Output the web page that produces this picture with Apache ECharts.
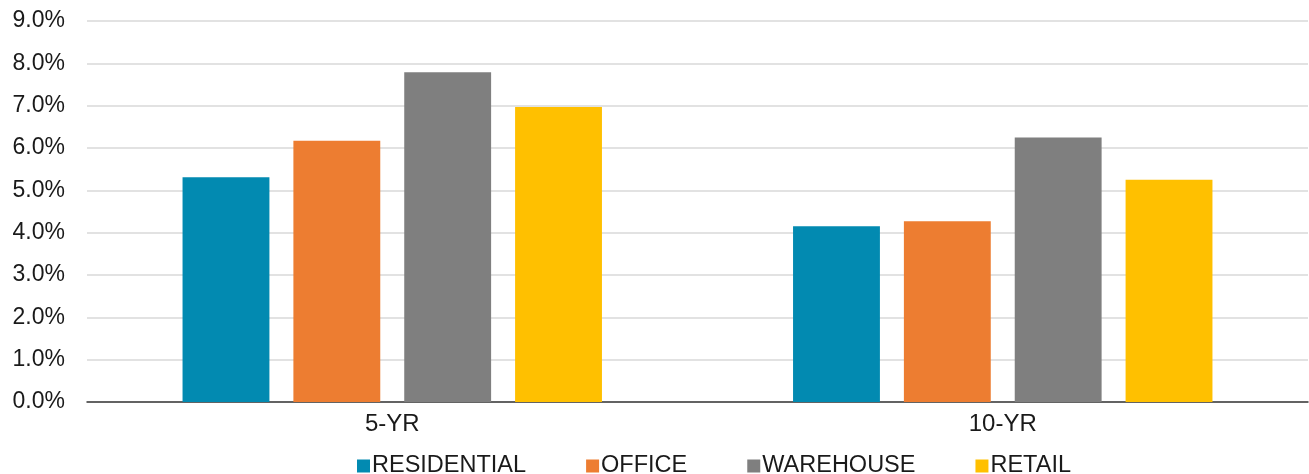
<!DOCTYPE html>
<html>
<head>
<meta charset="utf-8">
<script src="https://cdn.jsdelivr.net/npm/echarts@6/dist/echarts.min.js"></script>
<style>
html,body{margin:0;padding:0;background:#fff;}
#chart{width:1309px;height:474px;}
</style>
</head>
<body>
<div id="chart"></div>
<script>
const categories = ['5-YR', '10-YR'];
const residential = [5.31, 4.15];
const office = [6.17, 4.27];
const warehouse = [7.79, 6.25];
const retail = [6.97, 5.25];
const seriesNames = ['RESIDENTIAL', 'OFFICE', 'WAREHOUSE', 'RETAIL'];
const colors = ['#028AB1', '#ED7D31', '#7F7F7F', '#FFC000'];

const chart = echarts.init(document.getElementById('chart'), null, {renderer: 'canvas'});
const dataSets = [residential, office, warehouse, retail];
const font = 'Liberation Sans, Arial, sans-serif';
chart.setOption({
  animation: false,
  color: colors,
  grid: {left: 87, right: 1, top: 21, bottom: 72, containLabel: false},
  legend: {
    left: 352, top: 449,
    itemWidth: 13, itemHeight: 13, itemGap: 60,
    icon: 'rect',
    textStyle: {fontFamily: font, fontSize: 23.5, color: '#1a1a1a', padding: [0, 0, 0, -3]},
    data: seriesNames
  },
  xAxis: {
    type: 'category',
    data: categories,
    axisLine: {lineStyle: {color: '#3a3a3a', width: 1.5}},
    axisTick: {show: false},
    axisLabel: {fontFamily: font, fontSize: 24, color: '#1a1a1a', margin: 10}
  },
  yAxis: {
    type: 'value',
    min: 0, max: 9, interval: 1,
    axisLine: {show: false},
    axisTick: {show: false},
    splitLine: {lineStyle: {color: '#D9D9D9', width: 1.5}},
    axisLabel: {fontFamily: font, fontSize: 23, color: '#1a1a1a', margin: 22,
      formatter: v => v.toFixed(1) + '%'}
  },
  series: seriesNames.map((n, i) => ({
    name: n,
    type: 'bar',
    data: dataSets[i],
    barGap: '27.6%',
    barCategoryGap: '31.3%'
  }))
});
</script>
</body>
</html>
